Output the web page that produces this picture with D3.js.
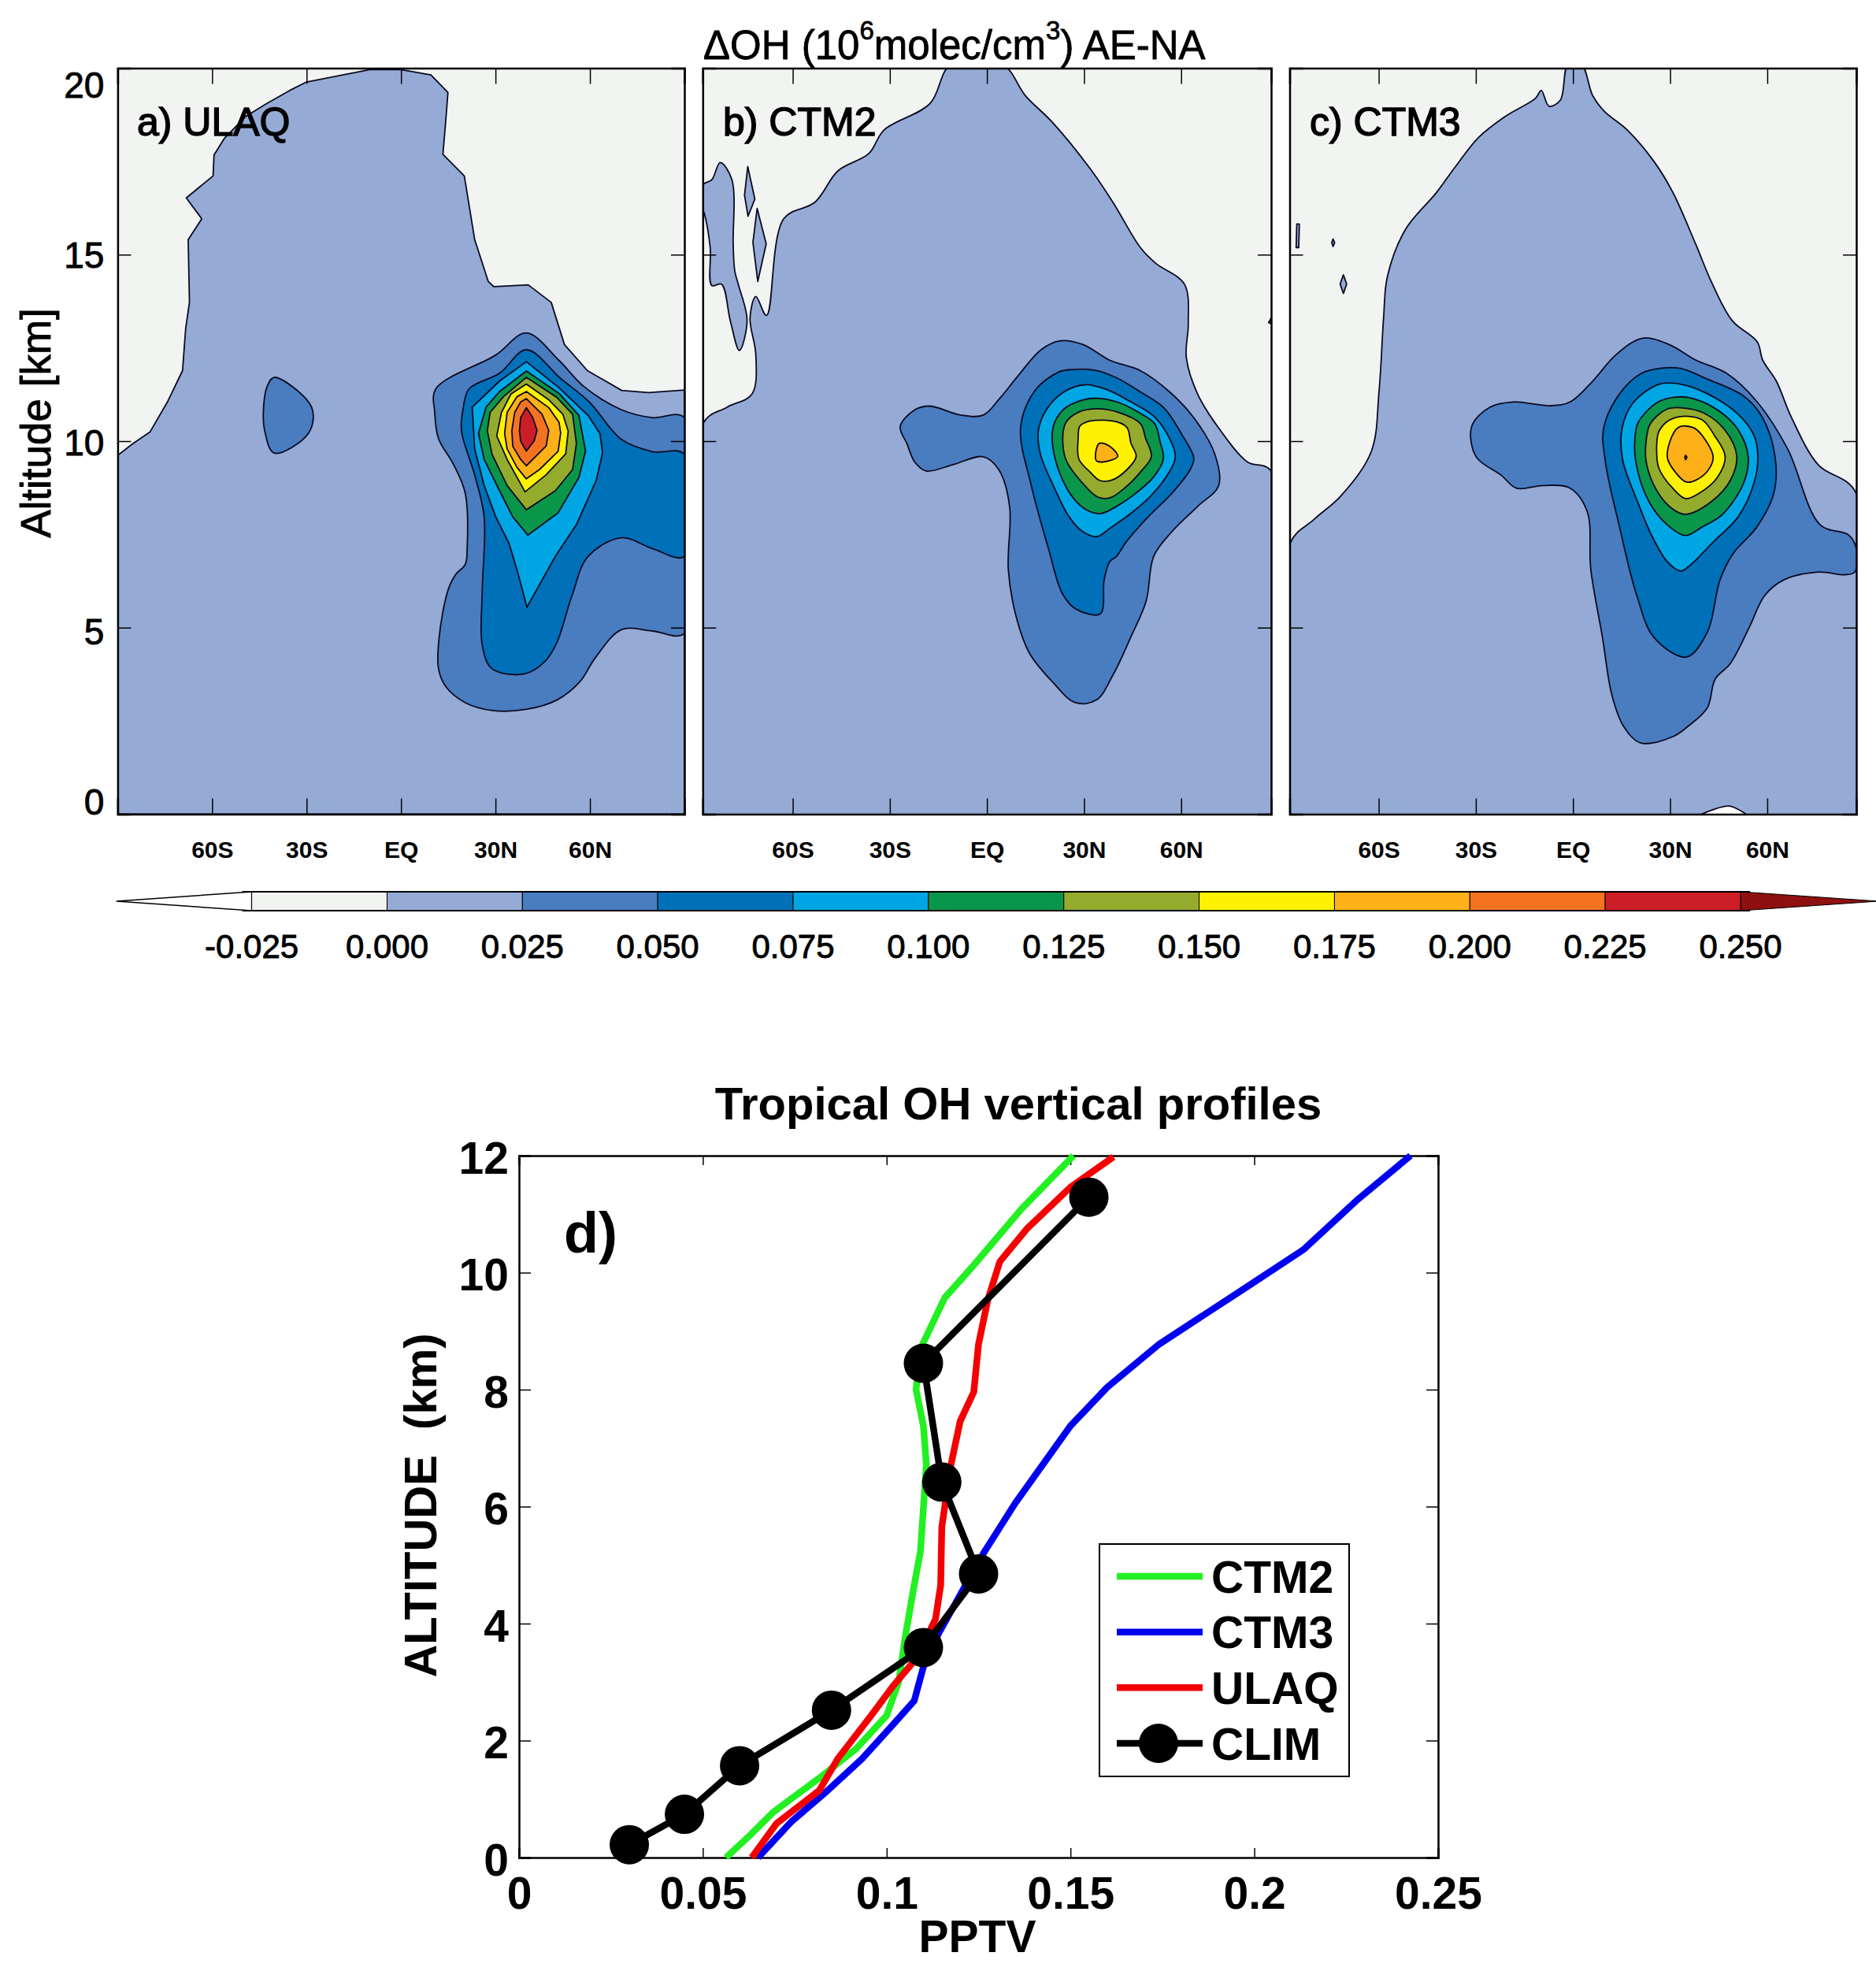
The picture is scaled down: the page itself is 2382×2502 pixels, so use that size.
<!DOCTYPE html>
<html>
<head>
<meta charset="utf-8">
<script src="https://cdn.jsdelivr.net/npm/d3@7"></script>
<style>
  html, body { margin: 0; background: #fff; }
  text { font-family: "Liberation Sans", Arial, sans-serif; fill: #000; }
</style>
</head>
<body>
<div id="chart"></div>
<script>
// contour levels and their fill colours (colour i fills values from level i to level i+1)
const cbLevels = [-0.025, 0, 0.025, 0.05, 0.075, 0.1, 0.125, 0.15, 0.175, 0.2, 0.225, 0.25];
const cbColors = ["#f2f4f2", "#95abd6", "#4a7cc0", "#0070b8", "#00a6e4", "#0a964a", "#94ab2e", "#fff200", "#fdb017", "#f47321", "#cc1e26"];
const cbLow = "#ffffff", cbHigh = "#8e1010";

const latTicks = [-60, -30, 0, 30, 60];
const latLabels = ["60S", "30S", "EQ", "30N", "60N"];
const altTicks = [0, 5, 10, 15, 20];

// panel a) ULAQ, contour rings as [lat, altitude km]
const ulaq000 = [[[-90,9.62],[-85.2,9.93],[-79.7,10.25],[-74.2,11.05],[-69.4,11.89],[-68.4,13.02],[-67.2,13.72],[-67.6,15.4],[-63.3,15.96],[-68.2,16.52],[-59.7,17.11],[-59.4,17.67],[-56,18.13],[-49.4,18.7],[-42.7,19.05],[-35.4,19.4],[-30,19.63],[-9.9,19.96],[0,19.96],[9.5,19.82],[14.9,19.35],[14.1,18.48],[13.3,17.69],[20.1,17.11],[23.4,15.4],[27.7,14.28],[29.5,14.14],[40.4,14.19],[47.7,13.72],[51.9,12.59],[59.2,11.89],[70.1,11.36],[78.6,11.3],[90,11.37],[90,0],[-90,0]]];
const ulaq025 = [[[11,11.4],[30.1,12.31],[39.8,12.9],[50.1,12.17],[58,11.47],[70.1,10.84],[79.8,10.63],[90,10.63],[90,4.85],[79.8,4.91],[70.1,4.95],[61.6,4.18],[56.8,3.55],[49.5,3.06],[39.8,2.81],[28.9,2.78],[20.4,2.99],[14.3,3.41],[11.9,3.9],[12.1,4.74],[14.9,6],[17.3,6.42],[20.4,6.7],[21,7.12],[20.4,8.6],[16.7,9.37],[11.9,10.07],[10.7,10.77]],
  [[-40.3,11.71],[-28.4,10.91],[-29.4,10.21],[-40.3,9.68],[-43.3,10.28],[-43.7,10.84],[-42.5,11.47]]];
const ulaq050 = [[[21.6,11.4],[31.3,11.82],[39.8,12.45],[50.7,11.68],[59.8,11.05],[70.1,10.04],[79.8,9.72],[90,9.65],[90,6.91],[79.8,7.12],[70.1,7.41],[59.4,6.91],[54.3,5.86],[49.5,4.6],[45.9,4.11],[39.2,3.76],[28.9,3.9],[25.8,4.53],[25.8,6],[26.4,7.97],[23.4,9.09],[19.2,10.28],[19.8,10.91]]];
const ulaq075 = [[[22.6,10.91],[31.3,11.61],[39.8,12.13],[50.2,11.43],[59.4,10.69],[63.2,10.2],[64,9.69],[62,8.95],[55.7,7.76],[49,6.91],[40,5.55],[36.8,6.56],[34.3,7.26],[30.1,7.97],[26.4,8.81],[23.4,9.79]]];
const ulaq100 = [[[24.6,10.21],[27,10.91],[31.3,11.33],[39.8,11.88],[50.2,11.28],[56.5,10.69],[58.6,9.73],[56.5,9.03],[49.9,8.08],[40.3,7.48],[35.5,7.97],[31.3,8.67],[26.4,9.51]]];
const ulaq125 = [[[27.4,10.28],[28.3,10.77],[32.5,11.19],[39.8,11.71],[49.4,11.18],[54.5,10.72],[55.7,9.94],[54.5,9.24],[49,8.67],[39.8,8.16],[33.7,8.81],[28.9,9.65]]];
const ulaq150 = [[[30.4,10.14],[31.9,10.77],[34.9,11.26],[39.8,11.53],[46.9,11.11],[51.4,10.72],[53.1,10.27],[52.3,9.66],[46.1,9.1],[39.4,8.64],[33.7,9.51]]];
const ulaq175 = [[[32.9,10.21],[33.7,10.77],[36.8,11.19],[39.8,11.33],[46.9,10.9],[50.2,10.5],[50.7,10.22],[49.9,9.73],[44,9.24],[39.8,8.99],[36.8,9.3],[33.7,9.79]]];
const ulaq200 = [[[35.2,10.28],[36.1,10.77],[38,11.05],[39.8,11.14],[44.8,10.72],[46.9,10.29],[46.1,9.87],[39.8,9.34],[38,9.51],[35.5,9.86]]];
const ulaq225 = [[[37.6,10.28],[38,10.63],[39.8,10.9],[41.8,10.64],[43.2,10.29],[42.3,10.01],[39.8,9.73],[38,10]]];

// panel b) CTM2
const ctm2000 = [[[-87.8,10.46],[-80.3,10.91],[-72.6,11.26],[-71.4,12.31],[-73.2,13.3],[-71.4,13.88],[-68.1,13.37],[-62.8,15.96],[-53.1,16.41],[-46,17.25],[-36.5,17.71],[-31.8,18.34],[-17.6,19.05],[-11.1,20.1],[4.8,20.1],[11.9,19.26],[20.2,18.55],[32,17.29],[39.1,16.38],[47.4,15.19],[52.1,14.77],[61,14.21],[62.2,13.16],[61.6,12.24],[65.1,11.26],[72.2,10.28],[80.5,9.44],[87.8,9.2],[87.8,0],[-87.8,0]],
  [[-87.8,16.87],[-85,17.01],[-82.4,17.47],[-78.8,17.01],[-78.4,15.26],[-77.9,14.56],[-76.7,14.17],[-74.1,13.23],[-76.5,12.43],[-79.3,13.23],[-82,14.21],[-85,14.17],[-85.5,15.19],[-87.3,16.1],[-87.8,16.21]],
  [[-73.9,17.36],[-71.7,16.49],[-73.8,16.03],[-74.9,16.59]],
  [[-71,16.24],[-68.2,15.29],[-70.8,14.28],[-72.3,15.33]],
  [[87,13.18],[87.8,13.3],[87.8,13.15]]];
const ctm2025 = [[[-26.8,10.39],[-22.3,10.84],[-17.6,10.94],[-8.2,10.7],[-1.1,10.7],[3.7,11.12],[9.6,11.75],[16.7,12.45],[22.6,12.69],[29.7,12.59],[37.9,12.17],[47.4,11.89],[56.3,11.33],[63.9,10.63],[70.4,9.65],[71.6,8.81],[65.1,8.25],[56.9,7.55],[51.5,6.91],[49.2,5.72],[44.4,4.74],[39.1,3.76],[33.8,3.06],[27.3,2.99],[20.2,3.55],[13.1,4.32],[9,5.3],[6.6,6.56],[7,8.25],[3.7,9.23],[-1.1,9.58],[-10.5,9.37],[-18.8,9.2],[-22.3,9.44],[-24.7,9.93]]];
const ctm2050 = [[[10.4,10.36],[14.8,11.35],[22.1,11.85],[26.2,11.92],[33.5,11.9],[40,11.7],[47.4,11.32],[54.7,10.89],[60.4,10.15],[63.9,9.55],[62.8,9.24],[57.1,8.6],[49.8,7.97],[43.3,7.33],[40,6.91],[37.9,6.77],[36.2,6.28],[35,5.37],[27.3,5.51],[23.2,5.93],[19,7.12],[13.7,8.81]]];
const ctm2075 = [[[15.9,10.29],[18.5,10.86],[23.8,11.32],[30.3,11.51],[36.8,11.39],[44.1,11.07],[51.4,10.68],[55.5,10.22],[58.2,9.59],[56.3,9.17],[50.6,8.53],[44.1,8.04],[38.4,7.69],[33.9,7.44],[29.5,7.58],[25.4,7.97],[20.5,8.81],[16.5,9.66]]];
const ctm2100 = [[[20.4,10.36],[23.8,10.86],[29.5,11.1],[34.3,11.15],[40.9,11.03],[46.5,10.79],[51.8,10.47],[53.4,10.01],[54.5,9.52],[51.4,9.03],[44.9,8.53],[40,8.25],[35.2,8.06],[31.1,8.14],[26.2,8.53],[21.3,9.45]]];
const ctm2125 = [[[24.2,10.47],[28.6,10.79],[34.3,10.87],[40,10.79],[47.4,10.47],[49,10.08],[50.8,9.59],[47.4,9.17],[42.5,8.74],[38,8.48],[34.3,8.5],[29.5,8.88],[24.2,9.55]]];
const ctm2150 = [[[28.7,10.4],[31.9,10.54],[40,10.52],[43.3,10.36],[44.5,9.94],[46.1,9.59],[43.3,9.24],[38.4,8.95],[34.8,8.95],[31.9,9.17],[28.4,9.52],[28.2,10.08]]];
const ctm2175 = [[[34.7,9.94],[38,9.86],[40.4,9.59],[38,9.48],[34,9.46],[33.5,9.59]]];

// panel c) CTM3, the first array is the small patch below the lowest level
const ctm3Below = [[[54.5,-0.1],[49.8,0.18],[48,0.22],[43.9,0.14],[38,-0.1]]];
const ctm3000 = [[[-87.5,7.24],[-80,7.9],[-71.7,8.53],[-62.3,9.72],[-59.9,11.33],[-58.5,13.3],[-57.3,14.42],[-51.7,15.68],[-42.2,16.66],[-36.3,17.36],[-29.3,18.13],[-21,18.7],[-11.6,19.19],[-9.8,19.4],[-7.4,18.98],[-3.9,19.14],[-1.5,20.1],[2.6,20.1],[6.1,19.26],[9.7,18.84],[16.8,18.34],[25,17.5],[30.9,16.66],[38,15.26],[42.7,14.28],[49.2,13.23],[56.9,12.66],[58.6,12.17],[62.8,11.61],[67.5,10.63],[75.7,9.37],[87.5,8.6],[87.5,0],[-87.5,0]],
  [[-85.3,15.82],[-84.5,15.82],[-84.7,15.19],[-85.5,15.19]],
  [[-74.5,15.32],[-74.1,15.42],[-73.6,15.32],[-74.1,15.22]],
  [[-70.9,14.46],[-69.9,14.21],[-70.9,13.96],[-71.9,14.21]]];
const ctm3025 = [[[-31.3,10.39],[-25.7,10.91],[-18.6,11.05],[-6.8,10.95],[-0.9,11.05],[6.1,11.61],[13.2,12.31],[21.5,12.76],[29.7,12.59],[38,12.17],[47.4,11.82],[56.9,11.05],[66.3,9.79],[76.3,7.76],[85.2,7.48],[87.5,7.12],[87,6.49],[84,6.42],[75.8,6.49],[65.1,6.28],[59.2,5.86],[54.5,5.02],[48.6,4.04],[43.9,3.62],[41.5,2.85],[35.6,2.36],[30.9,2.08],[20.9,1.91],[15.6,2.36],[12,3.2],[9.1,4.74],[5.5,6.56],[4.4,8.11],[-0.9,8.74],[-9.2,8.81],[-17.5,8.74],[-22.2,9.09],[-29.9,9.58]]];
const ctm3050 = [[[9.5,10.36],[14.5,11.28],[21,11.81],[26.7,11.95],[33.2,11.95],[41.3,11.67],[52.7,11.21],[58.4,10.65],[62.4,9.59],[62,8.6],[56.7,7.69],[49.4,6.98],[45.4,6.28],[41.5,4.88],[35,4.21],[25,4.74],[19.7,5.86],[14.4,7.69],[10,9.45]]];
const ctm3075 = [[[15.2,10.36],[18.6,11.03],[26.7,11.53],[33.2,11.53],[41.3,11.28],[51,10.72],[55.9,10.15],[57.1,9.59],[55.9,8.88],[51,7.97],[43.7,7.33],[35.6,6.63],[33.2,6.52],[29.1,6.77],[24.3,7.47],[20.2,8.32],[15.3,9.52]]];
const ctm3100 = [[[19.2,10.15],[20.2,10.51],[25.9,11.03],[31.6,11.18],[37.2,11.14],[45.4,10.79],[51.1,10.29],[54.1,9.59],[52.7,8.88],[46.2,8.04],[39.7,7.69],[34.8,7.47],[29.1,7.76],[23.4,8.39],[19.4,9.45]]];
const ctm3125 = [[[22.6,10.01],[23.9,10.47],[29.1,10.86],[34,10.89],[40.5,10.75],[47,10.29],[50.6,9.59],[48.6,8.95],[42.9,8.39],[34.8,8.04],[30.8,8.18],[25.9,8.67],[22.6,9.45]]];
const ctm3150 = [[[25.9,9.59],[26.7,10.29],[31.6,10.63],[39.7,10.58],[43.7,10.15],[47,9.59],[44.6,9.03],[38.9,8.6],[34.8,8.46],[30.8,8.74],[26.7,9.24]]];
const ctm3175 = [[[29.1,9.59],[32.4,10.36],[37.2,10.36],[40.5,10.08],[43.3,9.55],[40.5,9.1],[35.2,8.9],[31.6,9.17]]];
const ctm3200 = [[[34.5,9.57],[34.8,9.62],[35.2,9.57],[34.8,9.5]]];

// panel d) profiles as [pptv, altitude km]
const ctm2Profile = [[0.0563,0],[0.0633,0.41],[0.0692,0.78],[0.0817,1.36],[0.0917,1.86],[0.1,2.43],[0.1033,3.01],[0.105,3.75],[0.1075,4.66],[0.1092,5.24],[0.1108,6.72],[0.11,7.38],[0.108,8],[0.1092,8.7],[0.1158,9.57],[0.1233,10.1],[0.1367,11.09],[0.1508,12]];
const ctm3Profile = [[0.065,0],[0.0742,0.62],[0.0833,1.11],[0.0933,1.69],[0.1017,2.27],[0.1075,2.68],[0.11,3.26],[0.1142,3.84],[0.1208,4.58],[0.1267,5.24],[0.135,6.06],[0.15,7.38],[0.16,8.04],[0.1742,8.78],[0.1983,9.77],[0.2133,10.39],[0.2283,11.26],[0.2425,12]];
const ulaqProfile = [[0.0633,0],[0.07,0.58],[0.0817,1.15],[0.0867,1.69],[0.0958,2.43],[0.1017,2.93],[0.1083,3.42],[0.1133,4.08],[0.1147,4.66],[0.115,5.65],[0.1175,6.72],[0.12,7.46],[0.1237,7.96],[0.125,8.78],[0.1275,9.53],[0.1308,10.19],[0.1383,10.76],[0.15,11.46],[0.1617,11.98]];
const climProfile = [[0.03,0.22],[0.045,0.74],[0.06,1.57],[0.085,2.52],[0.11,3.59],[0.125,4.85],[0.115,6.42],[0.11,8.45],[0.155,11.29]];
const pptvTicks = [0, 0.05, 0.1, 0.15, 0.2, 0.25];
const pptvLabels = ["0", "0.05", "0.1", "0.15", "0.2", "0.25"];
const profileAltTicks = [0, 2, 4, 6, 8, 10, 12];

const svg = d3.select("#chart").append("svg")
    .attr("width", 2382)
    .attr("height", 2502);

const panelTop = 86.5, panelBottom = 1033.5;

// tick label nudges, the labels of the original do not sit exactly on their ticks
const altLabelShift = {20: 22, 15: 2, 10: 3, 5: 6, 0: -15};

const panels = [
  {id: "a", label: "a) ULAQ", left: 149.4, right: 869, latMax: 90, labelX: 174,
   smooth: li => li == 1 || li == 2,
   levels: [ulaq000, ulaq025, ulaq050, ulaq075, ulaq100, ulaq125, ulaq150, ulaq175, ulaq200, ulaq225]},
  {id: "b", label: "b) CTM2", left: 892.3, right: 1614, latMax: 87.8, labelX: 918,
   smooth: li => true,
   levels: [ctm2000, ctm2025, ctm2050, ctm2075, ctm2100, ctm2125, ctm2150, ctm2175]},
  {id: "c", label: "c) CTM3", left: 1637.5, right: 2357, latMax: 87.5, labelX: 1663,
   smooth: li => true, below: ctm3Below,
   levels: [ctm3000, ctm3025, ctm3050, ctm3075, ctm3100, ctm3125, ctm3150, ctm3175, ctm3200]}
];

var yAlt = d3.scaleLinear().domain([0, 20]).range([panelBottom, panelTop]);

panels.forEach(function(p, pi) {
    var x = d3.scaleLinear().domain([-p.latMax, p.latMax]).range([p.left, p.right]);

    svg.append("clipPath").attr("id", "clip-" + p.id)
        .append("rect")
        .attr("x", p.left).attr("y", panelTop)
        .attr("width", p.right - p.left).attr("height", panelBottom - panelTop);

    var g = svg.append("g").attr("clip-path", "url(#clip-" + p.id + ")");

    // below zero background
    g.append("rect")
        .attr("x", p.left).attr("y", panelTop)
        .attr("width", p.right - p.left).attr("height", panelBottom - panelTop)
        .attr("fill", cbColors[0]);

    var sharp = d3.line().x(d => x(d[0])).y(d => yAlt(d[1])).curve(d3.curveLinearClosed);
    var round = d3.line().x(d => x(d[0])).y(d => yAlt(d[1])).curve(d3.curveCatmullRomClosed.alpha(0.5));

    // filled contours from low to high, colour index is one above the level index
    p.levels.forEach(function(rings, li) {
        g.selectAll(".lev" + li)
            .data(rings)
            .enter()
            .append("path")
            // small diamonds keep their points
            .attr("d", d => (p.smooth(li) && d.length > 4 ? round : sharp)(d))
            .attr("fill", cbColors[li + 1])
            .attr("stroke", "#0a0a20")
            .attr("stroke-width", 1.8)
            .attr("stroke-linejoin", "round");
    });

    if (p.below) {
        g.selectAll(".below")
            .data(p.below)
            .enter()
            .append("path")
            .attr("d", round)
            .attr("fill", cbLow)
            .attr("stroke", "#0a0a20")
            .attr("stroke-width", 1.8);
    }

    // axes, ticks point into the panel
    var bottom = svg.append("g")
        .attr("transform", "translate(0," + panelBottom + ")")
        .call(d3.axisBottom(x).tickValues(latTicks)
            .tickFormat((d, i) => latLabels[i])
            .tickSize(-20).tickPadding(34));
    bottom.selectAll("text").attr("font-size", 30).attr("font-weight", "bold")
        .style("font-family", '"Liberation Sans", Arial, sans-serif');

    svg.append("g")
        .attr("transform", "translate(0," + panelTop + ")")
        .call(d3.axisTop(x).tickValues(latTicks).tickFormat("").tickSize(-20));

    var left = svg.append("g")
        .attr("transform", "translate(" + p.left + ",0)")
        .call(d3.axisLeft(yAlt).tickValues(altTicks)
            .tickFormat(pi == 0 ? (d => d) : "")
            .tickSize(-17).tickPadding(17));
    left.selectAll("text").attr("font-size", 46)
        .style("font-family", '"Liberation Sans", Arial, sans-serif')
        .attr("stroke", "#000").attr("stroke-width", 0.9)
        .attr("y", d => altLabelShift[d]);

    svg.append("g")
        .attr("transform", "translate(" + p.right + ",0)")
        .call(d3.axisRight(yAlt).tickValues(altTicks).tickFormat("").tickSize(-17));

    svg.selectAll(".domain").attr("stroke", "#000").attr("stroke-width", 2.5);
    svg.selectAll(".tick line").attr("stroke", "#000").attr("stroke-width", 1.5);

    svg.append("text")
        .attr("x", p.labelX)
        .attr("y", 172)
        .attr("font-size", 50)
        .attr("stroke", "#000").attr("stroke-width", 1.5)
        .text(p.label);
});

svg.append("text")
    .attr("transform", "translate(45,537) rotate(-90)")
    .attr("text-anchor", "middle")
    .attr("dy", "0.35em")
    .attr("font-size", 53)
    .attr("stroke", "#000").attr("stroke-width", 0.9)
    .text("Altitude [km]");

// main title with superscripts
var title = svg.append("text")
    .attr("x", 893)
    .attr("y", 75)
    .attr("font-size", 51)
    .attr("stroke", "#000").attr("stroke-width", 0.8);
title.append("tspan").text("\u0394OH (10");
title.append("tspan").attr("font-size", 33).attr("dy", -25).text("6");
title.append("tspan").attr("dy", 25).text("molec/cm");
title.append("tspan").attr("font-size", 33).attr("dy", -25).text("3");
title.append("tspan").attr("dy", 25).text(") AE-NA");

// colour bar
var cb = d3.scaleLinear().domain([-0.025, 0.25]).range([319.6, 2210]);
var cbTop = 1132, cbBottom = 1156, cbMid = (cbTop + cbBottom) / 2;

svg.append("path")
    .attr("d", "M" + cb(-0.025) + "," + cbTop + "L" + cb(-0.05) + "," + cbMid + "L" + cb(-0.025) + "," + cbBottom + "Z")
    .attr("fill", cbLow)
    .attr("stroke", "#000").attr("stroke-width", 1.5);
svg.append("path")
    .attr("d", "M" + cb(0.25) + "," + cbTop + "L" + cb(0.2755) + "," + cbMid + "L" + cb(0.25) + "," + cbBottom + "Z")
    .attr("fill", cbHigh)
    .attr("stroke", "#000").attr("stroke-width", 1);

svg.selectAll(".cbcell")
    .data(cbColors)
    .enter()
    .append("rect")
    .attr("class", "cbcell")
    .attr("x", (d, i) => cb(cbLevels[i]))
    .attr("y", cbTop)
    .attr("width", (d, i) => cb(cbLevels[i + 1]) - cb(cbLevels[i]))
    .attr("height", cbBottom - cbTop)
    .attr("fill", d => d)
    .attr("stroke", "#000")
    .attr("stroke-width", 1);

svg.append("line").attr("x1", cb(-0.025) - 12).attr("x2", cb(0.25) + 12)
    .attr("y1", cbTop).attr("y2", cbTop).attr("stroke", "#000").attr("stroke-width", 2);
svg.append("line").attr("x1", cb(-0.025) - 12).attr("x2", cb(0.25) + 12)
    .attr("y1", cbBottom).attr("y2", cbBottom).attr("stroke", "#000").attr("stroke-width", 2);

svg.selectAll(".cblabel")
    .data(cbLevels)
    .enter()
    .append("text")
    .attr("class", "cblabel")
    .attr("x", d => cb(d))
    .attr("y", 1201)
    .attr("dy", "0.36em")
    .attr("text-anchor", "middle")
    .attr("font-size", 42)
    .attr("stroke", "#000").attr("stroke-width", 0.9)
    .text(d => d3.format(".3f")(d).replace("\u2212", "-"));

// panel d
var px = d3.scaleLinear().domain([0, 0.25]).range([659, 1826]);
var py = d3.scaleLinear().domain([0, 12]).range([2358, 1467]);

var xAxisD = svg.append("g")
    .attr("transform", "translate(0,2358)")
    .call(d3.axisBottom(px).tickValues(pptvTicks)
        .tickFormat((d, i) => pptvLabels[i])
        .tickSize(-12).tickPadding(25));
svg.append("g")
    .attr("transform", "translate(0,1467)")
    .call(d3.axisTop(px).tickValues(pptvTicks).tickFormat("").tickSize(-12));
var yAxisD = svg.append("g")
    .attr("transform", "translate(659,0)")
    .call(d3.axisLeft(py).tickValues(profileAltTicks).tickSize(-15).tickPadding(13));
svg.append("g")
    .attr("transform", "translate(1826,0)")
    .call(d3.axisRight(py).tickValues(profileAltTicks).tickFormat("").tickSize(-15));

[xAxisD, yAxisD].forEach(a => a.selectAll("text")
    .attr("font-size", 57).attr("font-weight", "bold")
    .style("font-family", '"Liberation Sans", Arial, sans-serif'));
yAxisD.selectAll("text").attr("y", 4);

svg.selectAll(".domain").attr("stroke", "#000").attr("stroke-width", 2.5);
svg.selectAll(".tick line").attr("stroke", "#000").attr("stroke-width", 1.5);

var profile = d3.line().x(d => px(d[0])).y(d => py(d[1]));

const profileSeries = [
  {name: "CTM2", values: ctm2Profile, color: "#22f022"},
  {name: "CTM3", values: ctm3Profile, color: "#0000f0"},
  {name: "ULAQ", values: ulaqProfile, color: "#f50000"},
  {name: "CLIM", values: climProfile, color: "#000000", marker: true}
];

profileSeries.forEach(function(s) {
    svg.append("path")
        .attr("d", profile(s.values))
        .attr("fill", "none")
        .attr("stroke", s.color)
        .attr("stroke-width", 8.5)
        .attr("stroke-linejoin", "round");
    if (s.marker) {
        svg.selectAll(".clim")
            .data(s.values)
            .enter()
            .append("circle")
            .attr("class", "clim")
            .attr("cx", d => px(d[0]))
            .attr("cy", d => py(d[1]))
            .attr("r", 25)
            .attr("fill", "#000");
    }
});

// legend
svg.append("rect")
    .attr("x", 1396).attr("y", 1960)
    .attr("width", 317).attr("height", 295)
    .attr("fill", "#fff")
    .attr("stroke", "#000").attr("stroke-width", 2);

var legendY = d3.scalePoint().domain(profileSeries.map(d => d.name)).range([2001, 2213]);

profileSeries.forEach(function(s) {
    svg.append("line")
        .attr("x1", 1418).attr("x2", 1527)
        .attr("y1", legendY(s.name)).attr("y2", legendY(s.name))
        .attr("stroke", s.color).attr("stroke-width", 8.5);
    if (s.marker) {
        svg.append("circle")
            .attr("cx", 1471).attr("cy", legendY(s.name))
            .attr("r", 25).attr("fill", "#000");
    }
    svg.append("text")
        .attr("x", 1538).attr("y", legendY(s.name))
        .attr("dy", "0.36em")
        .attr("font-size", 57).attr("font-weight", "bold")
        .text(s.name);
});

svg.append("text")
    .attr("x", 1293).attr("y", 1421)
    .attr("text-anchor", "middle")
    .attr("font-size", 58).attr("font-weight", "bold")
    .text("Tropical OH vertical profiles");

svg.append("text")
    .attr("x", 1241).attr("y", 2478)
    .attr("text-anchor", "middle")
    .attr("font-size", 57).attr("font-weight", "bold")
    .text("PPTV");

svg.append("text")
    .attr("transform", "translate(534,1911) rotate(-90)")
    .attr("text-anchor", "middle")
    .attr("dy", "0.35em")
    .attr("font-size", 58).attr("font-weight", "bold")
    .text("ALTITUDE\u00a0\u00a0(km)");

svg.append("text")
    .attr("x", 716).attr("y", 1590)
    .attr("font-size", 72).attr("font-weight", "bold")
    .text("d)");
</script>
</body>
</html>
